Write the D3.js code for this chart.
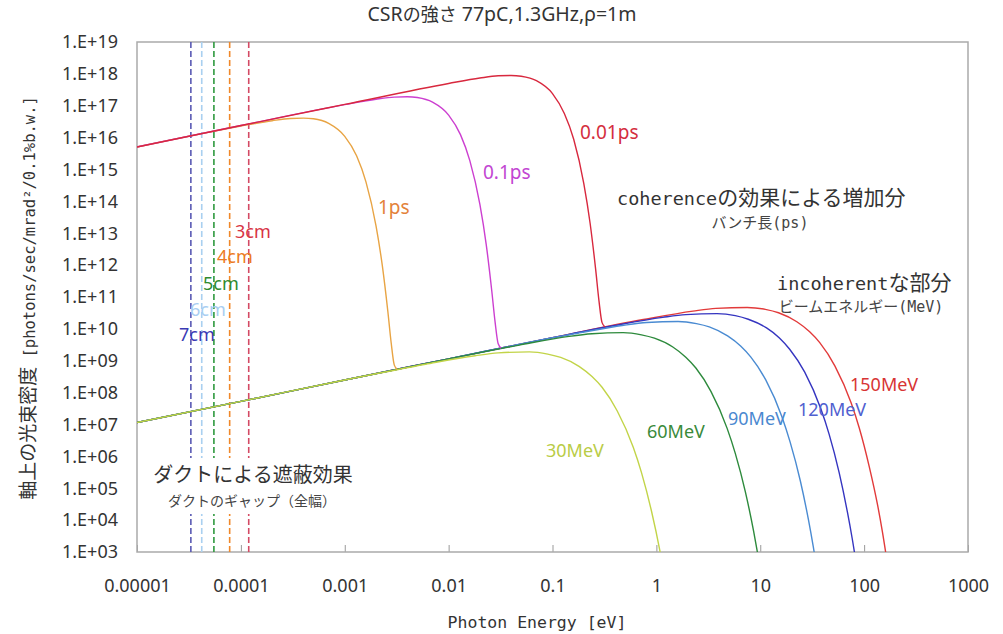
<!DOCTYPE html>
<html><head><meta charset="utf-8">
<script src="https://cdn.jsdelivr.net/npm/d3@7"></script>
<style>body{margin:0;background:#fff}</style>
</head><body><svg id="c" width="1003" height="634"></svg>
<script>
// ---------- data ----------
const xTicks = [1e-5, 1e-4, 1e-3, 1e-2, 0.1, 1, 10, 100, 1000];
const xTickLabels = ["0.00001","0.0001","0.001","0.01","0.1","1","10","100","1000"];
const yTicks = [1e3,1e4,1e5,1e6,1e7,1e8,1e9,1e10,1e11,1e12,1e13,1e14,1e15,1e16,1e17,1e18,1e19];
const yTickLabels = ["1.E+03","1.E+04","1.E+05","1.E+06","1.E+07","1.E+08","1.E+09","1.E+10","1.E+11","1.E+12","1.E+13","1.E+14","1.E+15","1.E+16","1.E+17","1.E+18","1.E+19"];

// incoherent part, beam energy (MeV)
const beamLabels = ["150MeV","120MeV","90MeV","60MeV","30MeV"];
const e150 = [1e-5,1e-4,1e-3,1e-2,0.1,0.749,2.25,3.74,7.49,11.2,15.0,22.5,29.9,37.4,52.4,74.9,89.8,112,135,150,187];
const f150 = [1.15e7,5.3e7,2.5e8,1.15e9,5.3e9,1.96e10,3.6e10,4.4e10,4.7e10,4.1e10,3.2e10,1.67e10,8.1e9,3.7e9,6.8e8,4.8e7,7.8e6,4.8e5,2.9e4,4.3e3,36];
const e120 = [1e-5,1e-4,1e-3,1e-2,0.1,0.383,1.15,1.92,3.83,5.75,7.67,11.5,15.3,19.2,26.8,38.3,46.0,57.5,69.0,76.7,95.8];
const f120 = [1.15e7,5.3e7,2.5e8,1.15e9,5.3e9,1.25e10,2.3e10,2.8e10,3.0e10,2.6e10,2.0e10,1.07e10,5.2e9,2.3e9,4.4e8,3.1e7,5.0e6,3.1e5,1.8e4,2.7e3,23];
const e90 = [1e-5,1e-4,1e-3,1e-2,0.162,0.485,0.809,1.62,2.43,3.23,4.85,6.47,8.09,11.3,16.2,19.4,24.3,29.1,32.3,40.4];
const f90 = [1.15e7,5.3e7,2.5e8,1.15e9,7.0e9,1.30e10,1.58e10,1.71e10,1.46e10,1.15e10,6.0e9,2.9e9,1.32e9,2.5e8,1.73e7,2.8e6,1.72e5,1.03e4,1.55e3,13];
const e60 = [1e-5,1e-4,1e-3,1e-2,0.0479,0.144,0.240,0.479,0.719,0.958,1.44,1.92,2.40,3.35,4.79,5.75,7.19,8.62,9.58];
const f60 = [1.15e7,5.3e7,2.5e8,1.14e9,3.1e9,5.8e9,7.0e9,7.6e9,6.5e9,5.1e9,2.7e9,1.29e9,5.9e8,1.09e8,7.7e6,1.24e6,7.7e4,4.6e3,6.9e2];
const e30 = [1e-5,1e-4,1e-3,6.0e-3,0.018,0.030,0.060,0.090,0.120,0.180,0.240,0.300,0.419,0.599,0.719,0.898,1.078,1.198];
const f30 = [1.15e7,5.3e7,2.5e8,7.8e8,1.44e9,1.76e9,1.90e9,1.62e9,1.27e9,6.7e8,3.2e8,1.47e8,2.7e7,1.93e6,3.1e5,1.9e4,1.15e3,1.7e2];

// coherent part, bunch length (ps)
const pulseLabels = ["1ps","0.1ps","0.01ps"];
const e1ps = [1e-5,1e-4,2e-4,3e-4,4e-4,5e-4,7e-4,1e-3,1.3e-3,1.6e-3,2.0e-3,2.3e-3,2.6e-3,2.8e-3,3.0e-3,3.2e-3];
const f1ps = [5.1e15,2.3e16,3.4e16,4.0e16,4.1e16,3.9e16,2.8e16,1.1e16,2.7e15,4.1e14,1.7e13,9.6e11,3.5e10,3.6e9,7.3e8,5.4e8];
const e01ps = [1e-5,1e-4,1e-3,2e-3,3e-3,4e-3,5e-3,7e-3,1e-2,1.3e-2,1.6e-2,2.0e-2,2.3e-2,2.6e-2,2.8e-2,3.0e-2,3.2e-2];
const f01ps = [5.1e15,2.4e16,1.08e17,1.6e17,1.87e17,1.92e17,1.81e17,1.30e17,5.1e16,1.24e16,1.9e15,8.0e13,4.5e12,1.6e11,1.65e10,3.4e9,2.5e9];
const e001ps = [1e-5,1e-4,1e-3,1e-2,2e-2,3e-2,4e-2,5e-2,7e-2,0.1,0.13,0.16,0.2,0.23,0.26,0.28,0.30,0.32];
const f001ps = [5.1e15,2.4e16,1.1e17,5.0e17,7.4e17,8.7e17,8.9e17,8.4e17,6.1e17,2.4e17,5.7e16,8.9e15,3.7e14,2.1e13,7.6e11,7.7e10,1.57e10,1.16e10];

// duct shielding cutoffs (duct gap, full width)
const ductLabels = ["7cm","6cm","5cm","4cm","3cm"];
const ductE = [3.3e-5, 4.2e-5, 5.5e-5, 7.8e-5, 1.19e-4];

// ---------- drawing ----------
const CJK = "'Noto Sans CJK JP', sans-serif";
const MONO = "'DejaVu Sans Mono', monospace";
const SANS = "'Noto Sans', 'Noto Sans CJK JP', sans-serif";

const svg = d3.select('#c');
const L = 137, R = 968, T = 42, B = 552;
const x = d3.scaleLog().domain([1e-5, 1e3]).range([L, R]);
const y = d3.scaleLog().domain([1e3, 1e19]).range([B, T]);

svg.append('defs').append('clipPath').attr('id','clip')
  .append('rect').attr('x',L).attr('y',T).attr('width',R-L).attr('height',B-T);

const zip = (a,b) => a.map((v,i)=>[v,b[i]]);
const line = d3.line().x(d=>x(d[0])).y(d=>y(d[1])).curve(d3.curveMonotoneX);

// axes
const gx = svg.append('g').attr('transform',`translate(0,${B})`)
  .call(d3.axisBottom(x).tickValues(xTicks).tickSize(-7).tickPadding(27)
    .tickFormat((d,i)=>xTickLabels[i]));
gx.select('.domain').remove();
gx.selectAll('line').attr('stroke','#999');
gx.selectAll('text').attr('font-family',SANS).attr('font-size',18).attr('fill','#333');

const gy = svg.append('g').attr('transform',`translate(${L},0)`)
  .call(d3.axisLeft(y).tickValues(yTicks).tickSize(0).tickPadding(19)
    .tickFormat((d,i)=>yTickLabels[i]));
gy.select('.domain').remove();
gy.selectAll('text').attr('font-family',SANS).attr('font-size',18).attr('fill','#333');

svg.append('rect').attr('x',L).attr('y',T).attr('width',R-L).attr('height',B-T)
  .attr('fill','none').attr('stroke','#aaa').attr('stroke-width',1.5);

const plot = svg.append('g').attr('clip-path','url(#clip)');

// duct lines
const ductColors = ["#5a5ab4","#a9d0f0","#2f9a3f","#f0882a","#d44a64"];
ductE.forEach((e,i)=>{
  plot.append('line').attr('x1',x(e)).attr('x2',x(e)).attr('y1',T).attr('y2',B)
    .attr('stroke',ductColors[i]).attr('stroke-width',1.6).attr('stroke-dasharray','6,3');
});

// incoherent curves
const beamSeries = [[e150,f150],[e120,f120],[e90,f90],[e60,f60],[e30,f30]];
const beamColors = ["#e23a3a","#3535c0","#4a8bd2","#2d8a3c","#c2d448"];
beamSeries.forEach((s,i)=>{
  plot.append('path').datum(zip(s[0],s[1])).attr('d',line)
    .attr('fill','none').attr('stroke',beamColors[i]).attr('stroke-width',1.4);
});

// coherent curves
const pulseSeries = [[e1ps,f1ps],[e01ps,f01ps],[e001ps,f001ps]];
const pulseColors = ["#e8a444","#cc3fd0","#d8283e"];
pulseSeries.forEach((s,i)=>{
  plot.append('path').datum(zip(s[0],s[1])).attr('d',line)
    .attr('fill','none').attr('stroke',pulseColors[i]).attr('stroke-width',1.4);
});

// helper for mixed-font text
function mixed(parent, px, py, runs, anchor, fill, transform){
  const t = parent.append('text').attr('x',px).attr('y',py)
    .attr('text-anchor',anchor||'start').attr('fill',fill||'#333');
  if (transform) t.attr('transform',transform);
  runs.forEach(r=>t.append('tspan').attr('font-family',r[1]).attr('font-size',r[2]).text(r[0]));
  return t;
}

// labels on curves
const pulseLabelPos = [[378,214],[483,179],[580,139]];
const pulseLabelColors = ["#e3823a","#c246d2","#d42e40"];
pulseLabels.forEach((t,i)=>mixed(svg,pulseLabelPos[i][0],pulseLabelPos[i][1],[[t,SANS,19]],'start',pulseLabelColors[i]));

const beamLabelPos = [[850,391],[798,416],[728,425],[647,438],[546,457]];
const beamLabelColors = ["#d83434","#5060d0","#4a88d0","#3a8a3a","#b9cc46"];
beamLabels.forEach((t,i)=>mixed(svg,beamLabelPos[i][0],beamLabelPos[i][1],[[t,SANS,18]],'start',beamLabelColors[i]));

const ductLabelPos = [[179,341],[190,316],[203,290],[217,263],[235,238]];
const ductLabelColors = ["#3a3ab4","#a8cef2","#2f8a2f","#ec7a22","#d83444"];
ductLabels.forEach((t,i)=>mixed(svg,ductLabelPos[i][0],ductLabelPos[i][1],[[t,SANS,18]],'start',ductLabelColors[i]));

// annotation blocks
svg.append('rect').attr('x',150).attr('y',458).attr('width',208).attr('height',56).attr('fill','#fff');
mixed(svg,253,482,[["ダクトによる遮蔽効果",CJK,20]],'middle','#333');
mixed(svg,252,506,[["ダクトのギャップ（全幅）",CJK,14]],'middle','#444');

mixed(svg,617,205,[["coherence",MONO,18.5],["の効果による増加分",CJK,21]],'start','#333');
mixed(svg,760,228,[["バンチ長",CJK,15],["(ps)",MONO,15]],'middle','#444');
mixed(svg,777,290,[["incoherent",MONO,18.5],["な部分",CJK,21]],'start','#333');
mixed(svg,861,312,[["ビームエネルギー",CJK,15],["(MeV)",MONO,15]],'middle','#444');

// title and axis titles
mixed(svg,502,21,[["CSR",SANS,19.5],["の強さ",CJK,18],[" 77pC,1.3GHz,ρ=1m",SANS,19.5]],'middle','#333');
mixed(svg,537,628,[["Photon Energy [eV]",MONO,16.5]],'middle','#333');
mixed(svg,0,0,[["軸上の光束密度",CJK,19],[" [photons/sec/mrad²/0.1%b.w.]",MONO,15.5]],'middle','#333','translate(35,298) rotate(-90)');
</script></body></html>
